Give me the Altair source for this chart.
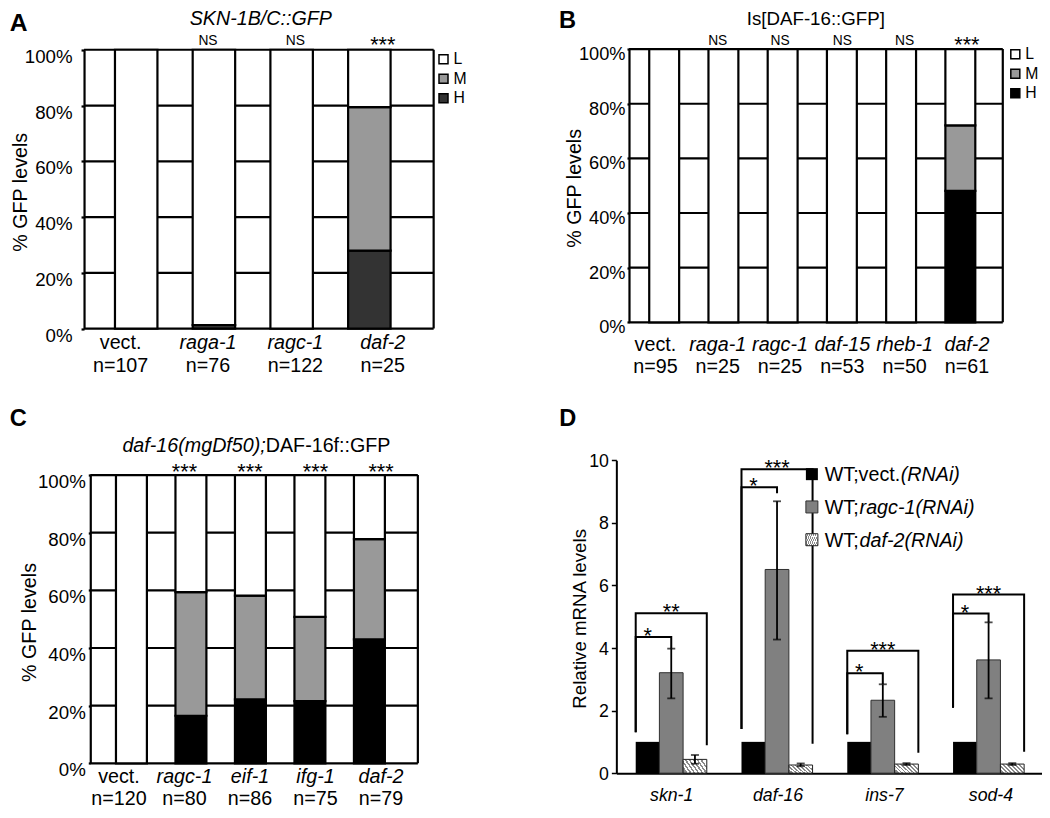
import altair as alt
import pandas as pd

FONT = "Liberation Sans"
INK = "#000000"

# ---------------- data ----------------
levels = ["L", "M", "H"]

a_title = "SKN-1B/C::GFP"
a_genes = ["vect.", "raga-1", "ragc-1", "daf-2"]
a_counts = ["n=107", "n=76", "n=122", "n=25"]
a_high = [0, 1.3, 0, 28.0]
a_mid = [0, 0, 0, 51.4]
a_sig = ["", "NS", "NS", "***"]

b_title = "Is[DAF-16::GFP]"
b_genes = ["vect.", "raga-1", "ragc-1", "daf-15", "rheb-1", "daf-2"]
b_counts = ["n=95", "n=25", "n=25", "n=53", "n=50", "n=61"]
b_high = [0, 0, 0, 0, 0, 48.1]
b_mid = [0, 0, 0, 0, 0, 24.0]
b_sig = ["", "NS", "NS", "NS", "NS", "***"]

c_title_italic = "daf-16(mgDf50);"
c_title_plain = "DAF-16f::GFP"
c_genes = ["vect.", "ragc-1", "eif-1", "ifg-1", "daf-2"]
c_counts = ["n=120", "n=80", "n=86", "n=75", "n=79"]
c_high = [0, 16.5, 22.2, 21.6, 43.0]
c_mid = [0, 42.9, 36.0, 29.2, 34.8]
c_sig = ["", "***", "***", "***", "***"]

gfp_title = "% GFP levels"
pct_ticks = [0, 20, 40, 60, 80, 100]

d_genes = ["skn-1", "daf-16", "ins-7", "sod-4"]
d_series = ["vect", "ragc-1", "daf-2"]
d_vect = [1.0, 1.0, 1.0, 1.0]
d_ragc = [3.21, 6.51, 2.33, 3.62]
d_ragc_lo = [2.39, 4.27, 1.80, 2.39]
d_ragc_hi = [3.98, 8.69, 2.84, 4.82]
d_daf2 = [0.44, 0.26, 0.29, 0.29]
d_daf2_lo = [0.30, 0.22, 0.26, 0.26]
d_daf2_hi = [0.58, 0.31, 0.32, 0.32]
d_ticks = [0, 2, 4, 6, 8, 10]
d_ytitle = "Relative mRNA levels"

# significance brackets (vect -> ragc-1 = inner, vect -> daf-2 = outer)
br_in_label = ["*", "*", "*", "*"]
br_in_top = [4.35, 9.14, 3.19, 5.10]
br_in_right = [3.98, 8.95, 2.85, 4.82]
br_out_label = ["**", "***", "***", "***"]
br_out_top = [5.11, 9.71, 3.91, 5.71]
br_out_right = [0.89, 0.94, 0.65, 0.68]
br_left = [1.31, 1.41, 1.24, 2.09]

d_leg_plain = ["WT;vect.", "WT;", "WT;"]
d_leg_ital = ["(RNAi)", "ragc-1(RNAi)", "daf-2(RNAi)"]

panel_letters = ["A", "B", "C", "D"]

# ---------------- layout helpers (figure coords -> canvas coords) ----------------
SX = 1034 / 1047
SY = 802 / 816
K = 0.985  # font scale


def PX(x):
    return round(x * SX, 2)


def PY(y):
    return round((y - 1.5) * SY, 2)


def F(s):
    return round(s * K, 2)


# hatch fill (diagonal stripes) as a striped linear gradient
stops = []
NSTR = 7
for i in range(NSTR):
    s = i / NSTR
    m = (i + 0.45) / NSTR
    e = (i + 1) / NSTR
    stops += [
        {"offset": round(s, 4), "color": "#8a8a8a"},
        {"offset": round(m, 4), "color": "#8a8a8a"},
        {"offset": round(m, 4), "color": "#ffffff"},
        {"offset": round(e, 4), "color": "#ffffff"},
    ]
HATCH = {"gradient": "linear", "x1": 0, "y1": 0.7, "x2": 1, "y2": 0.3, "stops": stops}

layers = []


def free_text(text, x, y, size, style="normal", weight="normal", angle=0, align="center"):
    return alt.Chart(pd.DataFrame({"t": [text]})).mark_text(
        font=FONT, fontSize=F(size), fontStyle=style, fontWeight=weight, angle=angle,
        align=align, baseline="alphabetic", color=INK
    ).encode(x=alt.value(PX(x)), y=alt.value(PY(y)), text="t:N")


def stack_panel(genes, counts, high, mid, sig, xr, yr, band, colors, yaxis, legend, pos):
    out = []
    rows = []
    for g, h, m in zip(genes, high, mid):
        for lev, y0, y1 in (("H", 0, h), ("M", h, h + m), ("L", h + m, 100)):
            if y1 - y0 > 0:
                rows.append({"gene": g, "level": lev, "y0": y0, "y1": y1})
    bars_df = pd.DataFrame(rows)
    lab_df = pd.DataFrame({"gene": genes, "n": counts, "sig": sig})

    xrc = [PX(xr[0]), PX(xr[1])]
    yrc = [PY(yr[0]), PY(yr[1])]
    xs = alt.Scale(domain=genes, range=xrc, paddingInner=band[0], paddingOuter=band[1], align=band[2])
    ys = alt.Scale(domain=[0, 100], range=yrc, nice=False, zero=False)
    lin = alt.Scale(domain=[0, 1], range=xrc, nice=False, zero=False)

    grid_df = pd.DataFrame({"v": pct_ticks, "a": 0, "b": 1})
    out.append(alt.Chart(grid_df).mark_rule(color=INK, strokeWidth=2.2).encode(
        x=alt.X("a:Q", scale=lin, axis=None), x2="b:Q",
        y=alt.Y("v:Q", scale=ys, axis=alt.Axis(
            orient="left", offset=-xrc[0], values=pct_ticks,
            labelExpr="datum.value + '%'", title=None, grid=False,
            domainColor=INK, domainWidth=2.2, tickColor=INK, tickWidth=2.2,
            labelColor=INK, labelFont=FONT, labelFontSize=F(yaxis["size"]),
            tickSize=yaxis["tick"], labelPadding=yaxis["pad"], labelOffset=yaxis["off"]))))
    out.append(alt.Chart(pd.DataFrame({"a": [1], "lo": [0], "hi": [100]})).mark_rule(
        color=INK, strokeWidth=2.2).encode(
        x=alt.X("a:Q", scale=lin, axis=None),
        y=alt.Y("lo:Q", scale=ys, axis=None), y2="hi:Q"))
    out.append(alt.Chart(bars_df).mark_bar(stroke=INK, strokeWidth=2.2).encode(
        x=alt.X("gene:N", scale=xs, axis=None),
        y=alt.Y("y0:Q", scale=ys, axis=None), y2="y1:Q",
        fill=alt.Fill("level:N", scale=alt.Scale(domain=levels, range=colors), legend=legend)))

    X = alt.X("gene:N", scale=xs, axis=None)

    def lab(filt, field, y, size, style="normal"):
        c = alt.Chart(lab_df)
        if filt:
            c = c.transform_filter(filt)
        return c.mark_text(font=FONT, fontSize=F(size), fontStyle=style, color=INK,
                           baseline="alphabetic", align="center").encode(
            x=X, y=alt.value(PY(y)), text=f"{field}:N")

    out.append(lab("datum.gene != 'vect.'", "gene", pos["gene_y"], 20, "italic"))
    out.append(lab("datum.gene == 'vect.'", "gene", pos["gene_y"], 20))
    out.append(lab(None, "n", pos["n_y"], 20))
    out.append(lab("datum.sig == 'NS'", "sig", pos["ns_y"], 14))
    out.append(lab("indexof(datum.sig, '*') >= 0", "sig", pos["star_y"], 22))
    return out


def legend_for(x, y):
    return alt.Legend(orient="none", legendX=PX(x), legendY=PY(y), title=None, symbolType="square",
                      symbolSize=81, symbolStrokeColor=INK, symbolStrokeWidth=1.5,
                      labelFont=FONT, labelFontSize=F(16), labelColor=INK, rowPadding=2.5,
                      padding=0, labelOffset=2)


# ---------------- panel A ----------------
layers += stack_panel(
    a_genes, a_counts, a_high, a_mid, a_sig,
    xr=[77, 431], yr=[327.7, 44], band=(0.4536, 0.476, 0.418),
    colors=["#ffffff", "#999999", "#333333"],
    yaxis=dict(size=19, tick=3, pad=9, off=6.5),
    legend=legend_for(433, 45.5),
    pos=dict(gene_y=348.3, n_y=371.7, ns_y=39.3, star_y=46.4))
layers.append(free_text(a_title, 256, 19.3, 20, style="italic"))
layers.append(free_text(gfp_title, 19.5, 189, 20, angle=270))
layers.append(free_text(panel_letters[0], 1.7, 25, 25, weight="bold", align="left"))

# ---------------- panel B ----------------
layers += stack_panel(
    b_genes, b_counts, b_high, b_mid, b_sig,
    xr=[628.8, 1007.3], yr=[321.3, 43.3], band=(0.495, 0.403, 0.424),
    colors=["#ffffff", "#999999", "#000000"],
    yaxis=dict(size=18.5, tick=2, pad=2, off=5.5),
    legend=legend_for(1012, 40.5),
    pos=dict(gene_y=350, n_y=373.3, ns_y=39.3, star_y=46.4))
layers.append(free_text(b_title, 818, 18.5, 19))
layers.append(free_text(gfp_title, 580, 185, 20, angle=270))
layers.append(free_text(panel_letters[1], 558, 21.7, 24, weight="bold", align="left"))

# ---------------- panel C ----------------
layers += stack_panel(
    c_genes, c_counts, c_high, c_mid, c_sig,
    xr=[83.3, 415], yr=[770, 476.7], band=(0.48, 0.493, 0.438),
    colors=["#ffffff", "#999999", "#000000"],
    yaxis=dict(size=19, tick=2, pad=3, off=6.5),
    legend=None,
    pos=dict(gene_y=790.3, n_y=812.5, ns_y=468, star_y=480.8))
layers.append(free_text(c_title_italic, 261, 453.3, 20, style="italic", align="right"))
layers.append(free_text(c_title_plain, 261, 453.3, 20, align="left"))
layers.append(free_text(gfp_title, 28.3, 626.7, 20, angle=270))
layers.append(free_text(panel_letters[2], 1.7, 426.7, 24, weight="bold", align="left"))

# ---------------- panel D ----------------
d_rows = []
for i, g in enumerate(d_genes):
    d_rows.append({"gene": g, "series": "vect", "value": d_vect[i], "lo": d_vect[i], "hi": d_vect[i]})
    d_rows.append({"gene": g, "series": "ragc-1", "value": d_ragc[i], "lo": d_ragc_lo[i], "hi": d_ragc_hi[i]})
    d_rows.append({"gene": g, "series": "daf-2", "value": d_daf2[i], "lo": d_daf2_lo[i], "hi": d_daf2_hi[i]})
d_df = pd.DataFrame(d_rows)

dxs = alt.Scale(domain=d_genes, range=[PX(616), PX(1047)], paddingInner=0.328, paddingOuter=0.176, align=0.52)
dos = alt.Scale(domain=d_series, paddingInner=0, paddingOuter=0)
dys = alt.Scale(domain=[0, 10], range=[PY(780), PY(461.7)], nice=False, zero=True)

DX = alt.X("gene:N", scale=dxs, axis=None)
DO = alt.XOffset("series:N", scale=dos)

layers.append(alt.Chart(d_df).transform_filter("datum.series == 'vect'").mark_bar(
    color=INK).encode(
    x=alt.X("gene:N", scale=dxs, axis=alt.Axis(
        orient="bottom", offset=PY(780) - 802, labels=False, ticks=False, grid=False, title=None,
        domainColor=INK, domainWidth=2)),
    xOffset=DO,
    y=alt.Y("value:Q", scale=dys, axis=alt.Axis(
        orient="left", offset=-PX(616), values=d_ticks, title=None, grid=False,
        domainColor=INK, domainWidth=2, tickColor=INK, tickWidth=1.5, tickSize=5,
        labelColor=INK, labelFont=FONT, labelFontSize=F(18), labelPadding=3, labelOffset=1))))
layers.append(alt.Chart(d_df).transform_filter("datum.series == 'ragc-1'").mark_bar(
    fill="#808080", stroke="#303030", strokeWidth=1).encode(
    x=DX, xOffset=DO, y=alt.Y("value:Q", scale=dys, axis=None)))
layers.append(alt.Chart(d_df).transform_filter("datum.series == 'daf-2'").mark_bar(
    fill=HATCH, stroke="#202020", strokeWidth=1).encode(
    x=DX, xOffset=DO, y=alt.Y("value:Q", scale=dys, axis=None)))

err = alt.Chart(d_df).transform_filter("datum.series != 'vect'")
layers.append(err.mark_rule(color=INK, strokeWidth=1.8).encode(
    x=DX, xOffset=DO, y=alt.Y("lo:Q", scale=dys, axis=None), y2="hi:Q"))
layers.append(err.mark_tick(orient="horizontal", size=8, thickness=1.8, color=INK).encode(
    x=DX, xOffset=DO, y=alt.Y("lo:Q", scale=dys, axis=None)))
layers.append(err.mark_tick(orient="horizontal", size=8, thickness=1.8, color=INK).encode(
    x=DX, xOffset=DO, y=alt.Y("hi:Q", scale=dys, axis=None)))

br_rows = []
for i, g in enumerate(d_genes):
    for kind, target, top, right in (("in", "ragc-1", br_in_top[i], br_in_right[i]),
                                     ("out", "daf-2", br_out_top[i], br_out_right[i])):
        bid = f"{g}-{kind}"
        br_rows += [
            {"bid": bid, "k": 0, "gene": g, "series": "vect", "y": br_left[i]},
            {"bid": bid, "k": 1, "gene": g, "series": "vect", "y": top},
            {"bid": bid, "k": 2, "gene": g, "series": target, "y": top},
            {"bid": bid, "k": 3, "gene": g, "series": target, "y": right},
        ]
br_df = pd.DataFrame(br_rows)
layers.append(alt.Chart(br_df).mark_line(color=INK, strokeWidth=2).encode(
    x=DX, xOffset=DO, y=alt.Y("y:Q", scale=dys, axis=None), detail="bid:N", order="k:Q"))

star_in = pd.DataFrame({"gene": d_genes, "series": "vect", "y": br_in_top, "t": br_in_label})
star_out = pd.DataFrame({"gene": d_genes, "series": "ragc-1", "y": br_out_top, "t": br_out_label})
layers.append(alt.Chart(star_in).mark_text(font=FONT, fontSize=F(22), color=INK, baseline="alphabetic",
                                           dx=12, dy=6).encode(
    x=DX, xOffset=DO, y=alt.Y("y:Q", scale=dys, axis=None), text="t:N"))
layers.append(alt.Chart(star_out).mark_text(font=FONT, fontSize=F(22), color=INK, baseline="alphabetic",
                                            dy=6).encode(
    x=DX, xOffset=DO, y=alt.Y("y:Q", scale=dys, axis=None), text="t:N"))

layers.append(alt.Chart(pd.DataFrame({"gene": d_genes})).mark_text(
    font=FONT, fontSize=F(18), fontStyle="italic", color=INK, baseline="alphabetic").encode(
    x=DX, y=alt.value(PY(808)), text="gene:N"))

layers.append(free_text(d_ytitle, 585, 623, 19, angle=270))
layers.append(free_text(panel_letters[3], 558.3, 426.7, 24, weight="bold", align="left"))

# legend D
leg_df = pd.DataFrame({"key": d_leg_ital, "plain": d_leg_plain, "ital": d_leg_ital, "idx": [0, 1, 2]})
LY = alt.Y("key:N", scale=alt.Scale(type="point", domain=d_leg_ital, range=[PY(475.8), PY(542.5)], padding=0),
           axis=None)
SQX = alt.value(PX(814))
layers.append(alt.Chart(leg_df).transform_filter("datum.idx == 0").mark_square(
    size=144, fill=INK, opacity=1).encode(x=SQX, y=LY))
layers.append(alt.Chart(leg_df).transform_filter("datum.idx == 1").mark_square(
    size=144, fill="#808080", stroke="#303030", strokeWidth=1, opacity=1).encode(x=SQX, y=LY))
layers.append(alt.Chart(leg_df).transform_filter("datum.idx == 2").mark_square(
    size=144, fill=HATCH, stroke="#202020", strokeWidth=1, opacity=1).encode(x=SQX, y=LY))
layers.append(alt.Chart(leg_df).mark_text(font=FONT, fontSize=F(20), color=INK, align="left",
                                          baseline="alphabetic", dy=7).encode(
    x=alt.value(PX(827)), y=LY, text="plain:N"))
layers.append(alt.Chart(leg_df).transform_filter("datum.idx == 0").mark_text(
    font=FONT, fontSize=F(20), fontStyle="italic", color=INK, align="left", baseline="alphabetic", dy=7).encode(
    x=alt.value(PX(904)), y=LY, text="ital:N"))
layers.append(alt.Chart(leg_df).transform_filter("datum.idx > 0").mark_text(
    font=FONT, fontSize=F(20), fontStyle="italic", color=INK, align="left", baseline="alphabetic", dy=7).encode(
    x=alt.value(PX(862.3)), y=LY, text="ital:N"))

chart = alt.layer(*layers).resolve_scale(
    x="independent", y="independent", fill="independent", xOffset="independent"
).properties(
    width=1034, height=802, autosize=alt.AutoSizeParams(type="none"), padding=0, background="white"
).configure_view(stroke=None)

chart.save("out.html", embed_options={"renderer": "svg", "actions": False})
